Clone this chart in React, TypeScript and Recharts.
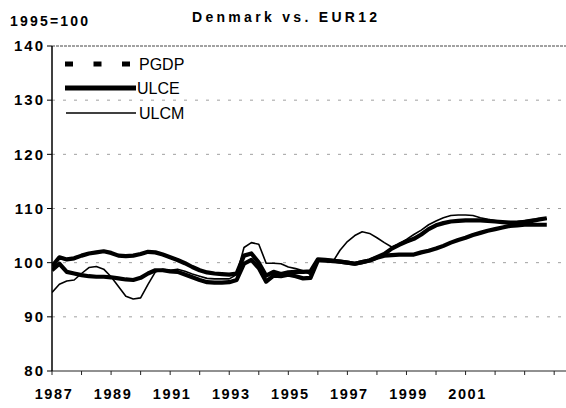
import { LineChart, Line, XAxis, YAxis, ReferenceLine } from "recharts";

// quarterly index series, 1995=100, first point = 1987 Q1
const START_YEAR = 1987;

const PGDP = [
  99.3, 101.0, 100.6, 100.8, 101.3, 101.7, 101.9, 102.1, 101.8, 101.3,
  101.2, 101.3, 101.6, 102.0, 101.9, 101.5, 101.0, 100.5, 99.9, 99.2,
  98.6, 98.2, 98.0, 97.9, 97.8, 98.0, 101.3, 101.7, 100.0, 97.6,
  98.3, 97.9, 98.2, 98.3, 98.3, 98.4, 100.6, 100.5, 100.4, 100.2,
  100.0, 99.8, 100.1, 100.4, 100.9, 101.3, 101.4, 101.5, 101.5, 101.5,
  101.9, 102.2, 102.6, 103.1, 103.7, 104.2, 104.6, 105.1, 105.5, 105.9,
  106.2, 106.5, 106.8, 106.9, 107.0, 107.0, 107.0, 107.0,
];

const ULCE = [
  98.6, 99.8, 98.3, 98.0, 97.7, 97.5, 97.4, 97.4, 97.3, 97.1,
  96.9, 96.8, 97.2, 98.0, 98.6, 98.6, 98.4, 98.3, 97.8, 97.3,
  96.8, 96.4, 96.3, 96.3, 96.4, 96.8, 99.8, 100.5, 99.0, 96.5,
  97.6, 97.5, 97.8, 97.5, 97.1, 97.2, 100.4, 100.4, 100.3, 100.2,
  100.0, 99.8, 100.1, 100.4, 101.0, 101.6, 102.6, 103.3, 103.9, 104.4,
  105.2, 106.2, 106.9, 107.3, 107.6, 107.7, 107.8, 107.8, 107.8, 107.7,
  107.6, 107.5, 107.4, 107.4, 107.5, 107.7, 108.0, 108.2,
];

const ULCM = [
  94.5, 96.0, 96.6, 96.8, 98.0, 99.1, 99.3, 98.8, 97.4, 95.6,
  93.8, 93.3, 93.5, 96.0, 98.3, 98.8, 98.6, 98.8, 98.4, 97.9,
  97.5, 97.1, 97.0, 97.0, 97.0, 97.8, 102.8, 103.7, 103.4, 99.9,
  99.9, 99.8, 99.2, 98.9, 98.5, 97.8, 100.3, 100.2, 100.1, 102.3,
  103.9, 105.0, 105.7, 105.4, 104.6, 103.7, 102.9, 103.5, 104.3, 105.2,
  106.0, 107.0, 107.7, 108.3, 108.7, 108.8, 108.8, 108.7, 108.3, 108.0,
  107.8, 107.6, 107.5, 107.6, 107.8, 108.0, 108.1, 108.1,
];

const X_TICKS = [
  1987, 1988, 1989, 1990, 1991, 1992, 1993, 1994, 1995, 1996,
  1997, 1998, 1999, 2000, 2001, 2002, 2003, 2004,
];
const X_LABELS = [1987, 1989, 1991, 1993, 1995, 1997, 1999, 2001];
const Y_TICKS = [80, 90, 100, 110, 120, 130, 140];
const GRID_LINES = [90, 100, 110, 120, 130];

const data = PGDP.map((v, i) => ({
  t: START_YEAR + i / 4,
  pgdp: v,
  ulce: ULCE[i],
  ulcm: ULCM[i],
}));

const FONT = "'Liberation Sans', Arial, sans-serif";

function XTick({ x, y, payload }: any) {
  if (!X_LABELS.includes(payload.value)) return null;
  return (
    <text
      x={x + 2}
      y={y + 12}
      textAnchor="middle"
      fontFamily={FONT}
      fontSize={14.5}
      fontWeight="bold"
      letterSpacing={1.6}
      fill="#000"
    >
      {payload.value}
    </text>
  );
}

function YTick({ x, y, payload }: any) {
  return (
    <text
      x={x}
      y={y + 5.3}
      textAnchor="end"
      fontFamily={FONT}
      fontSize={15}
      fontWeight="bold"
      letterSpacing={2}
      fill="#000"
    >
      {payload.value}
    </text>
  );
}

function Overlay() {
  return (
    <svg
      width={566}
      height={408}
      style={{ position: "absolute", left: 0, top: 0, pointerEvents: "none" }}
    >
      <text x={10} y={26} fontFamily={FONT} fontSize={14} fontWeight="bold" letterSpacing={2.2}>
        1995=100
      </text>
      <text x={192} y={22} fontFamily={FONT} fontSize={14} fontWeight="bold" letterSpacing={3.3}>
        Denmark vs. EUR12
      </text>
      {/* legend */}
      <line x1={65} x2={131} y1={64} y2={64} stroke="#000" strokeWidth={5} strokeDasharray="8 20.5" />
      <text x={139} y={70} fontFamily={FONT} fontSize={16} fill="#000">PGDP</text>
      <line x1={65} x2={136} y1={88} y2={88} stroke="#000" strokeWidth={5} />
      <text x={137} y={94} fontFamily={FONT} fontSize={16} fill="#000">ULCE</text>
      <line x1={66} x2={136} y1={113} y2={113} stroke="#000" strokeWidth={1.5} />
      <text x={139} y={119} fontFamily={FONT} fontSize={16} fill="#000">ULCM</text>
    </svg>
  );
}

export default function App() {
  return (
    <div style={{ position: "absolute", left: 0, top: 0, width: 566, height: 408, background: "#fff" }}>
      <LineChart width={566} height={408} data={data} margin={{ top: 46, right: 0, bottom: 7, left: 0 }}>
        {GRID_LINES.map((g) => (
          <ReferenceLine key={g} y={g} stroke="#a0a0a0" strokeDasharray="3 8" strokeWidth={1} />
        ))}
        <ReferenceLine y={140} stroke="#444" strokeDasharray="3 1" strokeWidth={1} />
        <XAxis
          dataKey="t"
          type="number"
          domain={[1987, 2004.4]}
          ticks={X_TICKS}
          allowDataOverflow
          height={30}
          tickSize={4}
          tickMargin={12}
          tick={<XTick />}
          axisLine={{ stroke: "#222", strokeWidth: 1 }}
          tickLine={{ stroke: "#222" }}
          interval={0}
        />
        <YAxis
          type="number"
          domain={[80, 140]}
          ticks={Y_TICKS}
          width={52}
          tickSize={5}
          tickMargin={2}
          tick={<YTick />}
          axisLine={{ stroke: "#000", strokeWidth: 1.5 }}
          tickLine={{ stroke: "#000" }}
          interval={0}
        />
        <Line
          dataKey="pgdp"
          type="linear"
          stroke="#000"
          strokeWidth={4.2}
          strokeLinejoin="round"
          dot={false}
          isAnimationActive={false}
        />
        <Line
          dataKey="ulce"
          type="linear"
          stroke="#000"
          strokeWidth={4.2}
          strokeLinejoin="round"
          dot={false}
          isAnimationActive={false}
        />
        <Line
          dataKey="ulcm"
          type="linear"
          stroke="#000"
          strokeWidth={1.6}
          strokeLinejoin="round"
          dot={false}
          isAnimationActive={false}
        />
      </LineChart>
      <Overlay />
    </div>
  );
}
